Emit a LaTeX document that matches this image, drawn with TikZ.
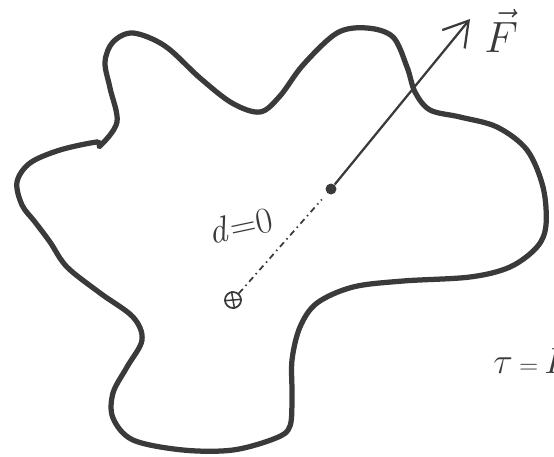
\documentclass[tikz,border=0pt]{standalone}
\usepackage{tikz}
\usetikzlibrary{calc,arrows.meta}
\usepackage{xcolor}
\definecolor{ink}{HTML}{3A3A3A}
\tikzset{
  body/.style={line width=1.05mm, draw=ink, line join=round},
  force/.style={-{Straight Barb[length=4.8mm,width=5.8mm,line width=0.45mm]}, line width=0.45mm, draw=ink},
  arm/.style={line width=0.35mm, draw=ink, dash pattern=on 1.2mm off 0.8mm on 0.3mm off 0.8mm},
  pivot/.style={circle, draw=ink, line width=0.35mm, inner sep=0pt, minimum size=3.2mm},
  grip/.style={circle, fill=ink, inner sep=0pt, minimum size=2.2mm},
  hand/.style={text=ink, inner sep=0pt},
}
\begin{document}
\begin{tikzpicture}[x=0.2mm, y=-0.2mm]
  \useasboundingbox (0,0) rectangle (554,456);
  % outline of the rigid body
  \draw[body] plot[smooth cycle, tension=0.55] coordinates {
    (100,146) (117,122) (110,88) (105,62) (113,42) (133,33) (165,46)
    (200,78) (232,103) (260,112) (280,96) (303,65) (337,33) (367,28)
    (393,37) (407,67) (415,92) (430,110) (460,117) (497,127) (527,150)
    (543,187) (546,225) (537,247) (510,267) (470,277) (403,281)
    (353,287) (317,303) (300,327) (292,360) (292,395) (290,426)
    (276,438) (233,450) (183,450) (133,440) (113,418) (113,393)
    (127,367) (142,340) (133,317) (100,293) (67,267) (50,242) (35,222)
    (22,205) (17,182) (30,163) (60,150) (97,142)};
  % point of application and axis
  \node[grip] (app) at (331,189) {};
  \node[pivot] (axis) at (233,300) {};
  \draw[ink, line width=0.3mm] (axis.100) -- (axis.280) (axis.185) -- (axis.5);
  \coordinate (tip) at (470,19);
  \draw[force] (app) -- (tip);
  \draw[arm, shorten >=1.6mm] (axis) -- (app);
  % labels
  \node[hand, font=\fontsize{26}{26}\selectfont, anchor=base west] (lblF) at (484,52) {$\vec{F}$};
  \node[hand, font=\fontsize{22}{22}\selectfont, rotate=12] (lbld) at (240,225) {$\mathit{d}{=}0$};
  \node[hand, font=\fontsize{20}{20}\selectfont, anchor=base west] (lbltau) at (493,373)
    {$\tau\,{\scriptstyle=}\,F$};
\end{tikzpicture}
\end{document}
